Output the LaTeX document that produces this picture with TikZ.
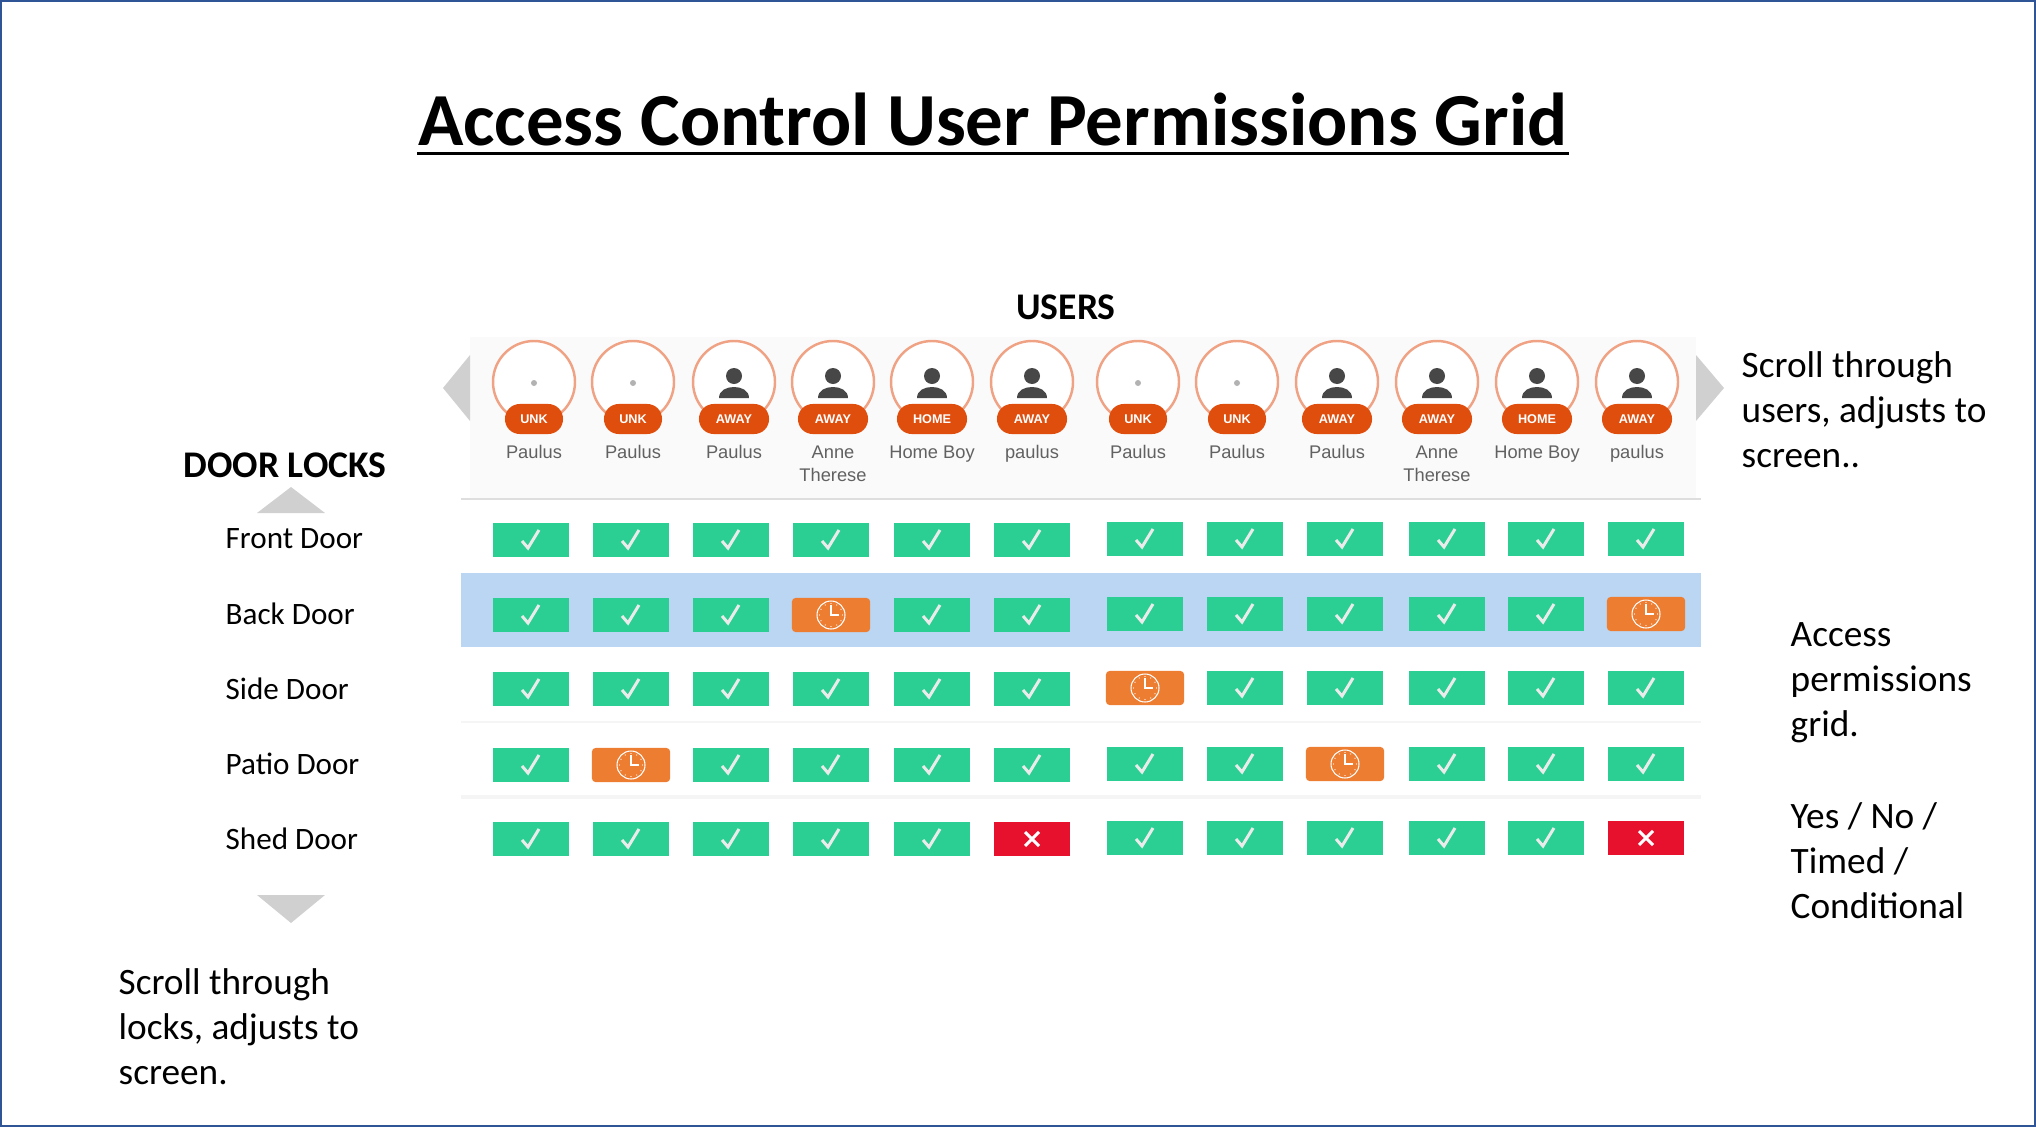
\documentclass[tikz,border=0pt]{standalone}
\usepackage{fontspec}
\usepackage{tikz,ifthen}
\setmainfont{Carlito}
\newfontfamily\uifont{Liberation Sans}
\definecolor{framecol}{HTML}{2F5597}
\definecolor{panelcol}{HTML}{FAFAFA}
\definecolor{bandcol}{HTML}{BAD6F2}
\definecolor{okcol}{HTML}{2BCF94}
\definecolor{timedcol}{HTML}{ED7D31}
\definecolor{nocol}{HTML}{E8112D}
\definecolor{ringcol}{HTML}{F0A285}
\definecolor{pillcol}{HTML}{E04E0E}
\definecolor{arrowcol}{HTML}{D0D0D0}
\tikzset{
  okcell/.style={fill=okcol,minimum width=.75cm,minimum height=.34cm,inner sep=0pt},
  nocell/.style={fill=nocol,minimum width=.75cm,minimum height=.34cm,inner sep=0pt},
  timedcell/.style={fill=timedcol,rounded corners=1pt,minimum width=.78cm,minimum height=.34cm,inner sep=0pt},
  mark line/.style={white,line width=.85pt},
  pill/.style={fill=pillcol,text=white,rounded corners=4.2pt,minimum height=.3cm,inner sep=0pt,font=\uifont\bfseries\fontsize{3.6}{4}\selectfont},
  username/.style={anchor=north,align=center,text=black!62,inner sep=0pt,font=\uifont\fontsize{5.2}{6.5}\selectfont},
  door/.style={anchor=west,inner sep=0pt,font=\fontsize{8.85}{10}\selectfont},
  note/.style={anchor=north west,align=left,inner sep=0pt,font=\fontsize{10.6}{12.8}\selectfont},
  heading/.style={inner sep=0pt,font=\bfseries\fontsize{10.7}{12.8}\selectfont}
}
\begin{document}
\begin{tikzpicture}[x=.01cm,y=-.01cm]
\useasboundingbox (0,0) rectangle (2036,1127);
\draw[framecol,line width=.6pt] (1,1) rectangle (2035,1126);
\node[inner sep=0pt,font=\bfseries\fontsize{21.3}{25}\selectfont] (title) at (993,119) {Access Control User Permissions Grid};
\draw[line width=.85pt] ([yshift=-.08cm]title.base west) -- ([yshift=-.08cm]title.base east);
\node[heading] (users) at (1066,307) {USERS};
\node[heading,anchor=west] (locks) at (183,465) {DOOR LOCKS};
% panel and rows
\fill[panelcol] (470,337) rectangle (1696,499);
\draw[black!13,line width=.4pt] (461,499) -- (1701,499);
\fill[bandcol] (461,573) rectangle (1701,647);
\fill[black!4] (461,721) rectangle (1701,723);
\fill[black!4] (461,795) rectangle (1701,799);
% scroll arrows
\fill[arrowcol] (443,388) -- (470,355) -- (470,421) -- cycle;
\fill[arrowcol] (1724,388) -- (1696,355) -- (1696,421) -- cycle;
\fill[arrowcol] (291,487) -- (325,513) -- (257,513) -- cycle;
\fill[arrowcol] (291,923) -- (325,895) -- (257,895) -- cycle;
% users
\foreach \col/\x/\state/\who in {1/534/UNK/Paulus,2/633/UNK/Paulus,3/734/AWAY/Paulus,4/833/AWAY/{Anne\\Therese},5/932/HOME/Home Boy,6/1032/AWAY/paulus,
  7/1138/UNK/Paulus,8/1237/UNK/Paulus,9/1337/AWAY/Paulus,10/1437/AWAY/{Anne\\Therese},11/1537/HOME/Home Boy,12/1637/AWAY/paulus}
{
  \draw[ringcol,fill=white,line width=.7pt] (\x,382) circle (41);
  \ifthenelse{\equal{\state}{UNK}}
   {\fill[black!30] (\x,383) circle (3);
    \node[pill,minimum width=.58cm] (state-\col) at (\x,419) {\state};}
   {\fill[black!72] (\x,376) circle (8);
    \fill[black!72] (\x-15,398) .. controls (\x-15,390) and (\x-7,387) .. (\x,387) .. controls (\x+7,387) and (\x+15,390) .. (\x+15,398) -- cycle;
    \node[pill,minimum width=.7cm] (state-\col) at (\x,419) {\state};}
  \node[username] (user-\col) at (\x,445) {\who};
}
% doors
\foreach \row/\y/\name in {1/539/Front Door,2/614/Back Door,3/689/Side Door,4/764/Patio Door,5/839/Shed Door}
  \node[door] (door-\row) at (225,\y) {\name};
% permissions
\foreach \row/\y in {1/540,2/615,3/689,4/765,5/839}
  \foreach \col/\x/\o in {1/531/0,2/631/0,3/731/0,4/831/0,5/932/0,6/1032/0,7/1145/1,8/1245/1,9/1345/1,10/1447/1,11/1546/1,12/1646/1}
  {
    \ifthenelse{\(\row=2 \AND \col=4\) \OR \(\row=2 \AND \col=12\) \OR \(\row=3 \AND \col=7\) \OR \(\row=4 \AND \col=2\) \OR \(\row=4 \AND \col=9\)}
     {\node[timedcell] (cell-\row-\col) at (\x,\y-\o) {};
      \draw[white,line width=.3pt] (\x,\y-\o) circle (14);
      \draw[white,line width=.4pt] (\x,\y-\o-10) -- (\x,\y-\o) -- (\x+8,\y-\o);
      \foreach \a in {0,30,...,330}
        \fill[white] ({\x+11.5*cos(\a)},{\y-\o+11.5*sin(\a)}) circle (.6);}
     {\ifthenelse{\row=5 \AND \(\col=6 \OR \col=12\)}
       {\node[nocell] (cell-\row-\col) at (\x,\y-\o) {};
        \draw[mark line] (\x-7,\y-\o-7) -- (\x+7,\y-\o+7);
        \draw[mark line] (\x-7,\y-\o+7) -- (\x+7,\y-\o-7);}
       {\node[okcell] (cell-\row-\col) at (\x,\y-\o) {};
        \draw[mark line,black!8] (\x-9,\y-\o+1) -- (\x-3,\y-\o+8) -- (\x+8,\y-\o-10);}
     }
  }
% notes
\node[note] (scrollusers) at (1741,351) {Scroll through\\users, adjusts to\\screen..};
\node[note] (grid) at (1790,622) {Access\\permissions\\grid.};
\node[note] (kinds) at (1790,802) {Yes / No /\\Timed /\\Conditional};
\node[note] (scrolllocks) at (118,968) {Scroll through\\locks, adjusts to\\screen.};
\end{tikzpicture}
\end{document}
